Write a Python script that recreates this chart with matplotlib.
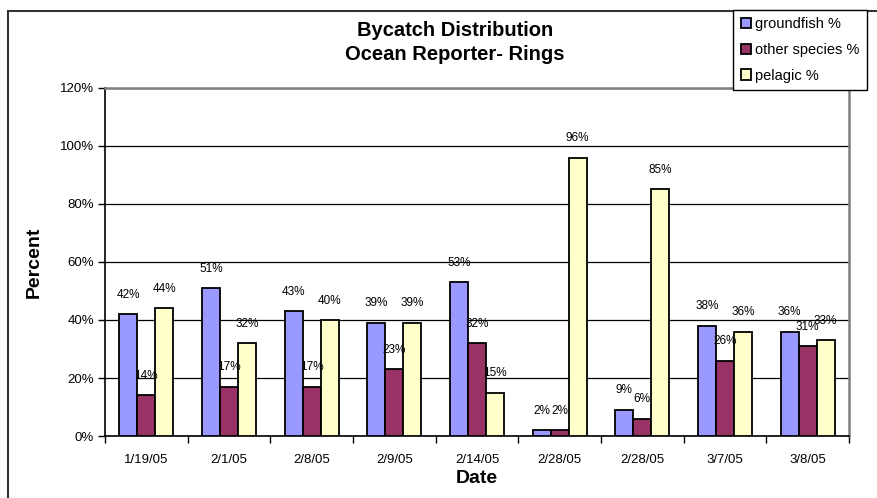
import numpy as np
import matplotlib
matplotlib.use("Agg")
import matplotlib.pyplot as plt
from matplotlib.patches import Rectangle

plt.rcParams['font.family'] = ['Liberation Sans', 'DejaVu Sans']

dates = ['1/19/05', '2/1/05', '2/8/05', '2/9/05', '2/14/05',
         '2/28/05', '2/28/05', '3/7/05', '3/8/05']
groundfish = [42, 51, 43, 39, 53, 2, 9, 38, 36]
other_species = [14, 17, 17, 23, 32, 2, 6, 26, 31]
pelagic = [44, 32, 40, 39, 15, 96, 85, 36, 33]

series = [('groundfish %', groundfish, '#9999FF'),
          ('other species %', other_species, '#993366'),
          ('pelagic %', pelagic, '#FFFFCC')]

fig = plt.figure(figsize=(8.77, 4.98), dpi=100)
ax = fig.add_axes([105/877, 62/498, (849-105)/877, (436-88)/498])

# outer chart border
fig.patches.append(Rectangle((8/877, -0.1), 1.2, 1 - 11/498 + 0.1,
                             transform=fig.transFigure, fill=False,
                             edgecolor='#333333', linewidth=1.5))

x = np.arange(len(dates))
w = 0.218
for i, (name, vals, col) in enumerate(series):
    bars = ax.bar(x + (i - 1) * w, vals, w, color=col, edgecolor='black',
                  linewidth=1.3, label=name, zorder=3)
    for b, v in zip(bars, vals):
        ax.annotate('%d%%' % v, (b.get_x() + b.get_width() / 2, v),
                    xytext=(0, 14), textcoords='offset points',
                    ha='center', va='center', fontsize=8.5, zorder=4)

ax.set_xlim(-0.5, len(dates) - 0.5)
ax.set_ylim(0, 120)
ax.set_yticks(np.arange(0, 121, 20))
ax.set_yticklabels(['%d%%' % t for t in range(0, 121, 20)], fontsize=9.5)
ax.set_xticks(x)
ax.set_xticklabels(dates, fontsize=9.5)
ax.set_xticks(np.arange(-0.5, len(dates), 1), minor=True)
ax.tick_params(axis='x', which='major', length=0, pad=13)
ax.tick_params(axis='x', which='minor', length=5, width=1, direction='out')
ax.tick_params(axis='y', length=5, width=1, direction='out', pad=3)

ax.yaxis.grid(True, color='black', linewidth=0.9, zorder=0)
ax.set_axisbelow(True)
for s in ['left', 'bottom']:
    ax.spines[s].set_color('black')
    ax.spines[s].set_linewidth(1.2)
for s in ['top', 'right']:
    ax.spines[s].set_color('#808080')
    ax.spines[s].set_linewidth(1.8)

ax.set_ylabel('Percent', fontsize=14, fontweight='bold', labelpad=12)
ax.set_xlabel('Date', fontsize=14, fontweight='bold', labelpad=3)

fig.text(455/877, 1 - 30/498, 'Bycatch Distribution', ha='center', va='center',
         fontsize=14.5, fontweight='bold')
fig.text(455/877, 1 - 55/498, 'Ocean Reporter- Rings', ha='center', va='center',
         fontsize=14.5, fontweight='bold')

leg = fig.legend(loc='upper right', bbox_to_anchor=(867/877, 1 - 10/498),
                 fontsize=10.5, frameon=True, fancybox=False, edgecolor='black',
                 framealpha=1, handlelength=0.7, handleheight=0.7,
                 handletextpad=0.3, labelspacing=0.8, borderpad=0.5,
                 borderaxespad=0)
leg.get_frame().set_linewidth(1.0)

fig.savefig('out.png', dpi=100)
